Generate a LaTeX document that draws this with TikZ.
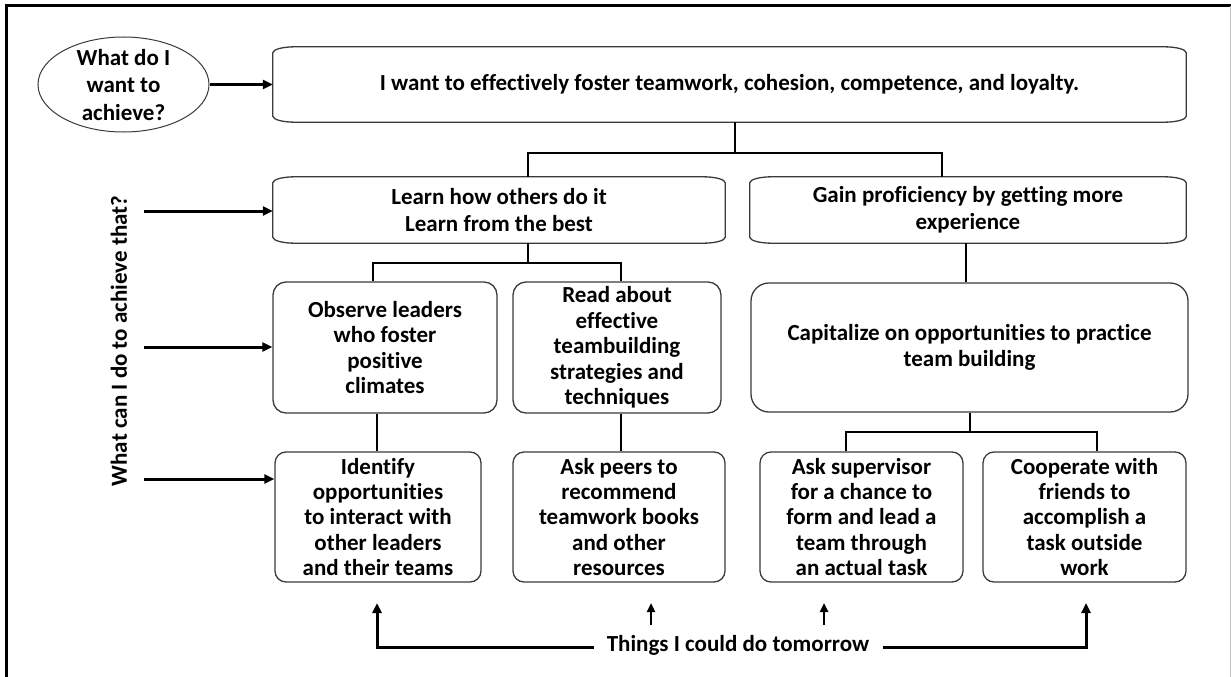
\documentclass[tikz,border=0pt]{standalone}
\usepackage{fontspec}
\setmainfont{Carlito}[Ligatures=NoCommon]
\usetikzlibrary{arrows.meta,calc,shapes.geometric}

\definecolor{boxgrey}{HTML}{3A3A3A}

\tikzset{
  txt/.style={font=\fontsize{23}{25.4}\selectfont\bfseries, align=center, inner sep=0pt},
  plainbox/.style={txt, draw=boxgrey, line width=1.3pt, rounded corners=13pt},
  flatbox/.style={txt, draw=none},
  conn/.style={line width=1.8pt, black},
  arr/.style={line width=3pt, black, -{Triangle[length=10pt,width=9pt]}},
  smallarr/.style={line width=2.6pt, black, -{Triangle[length=9pt,width=8pt]}},
}

% box with softly flattened (elliptic) corners, drawn round a named node
\newcommand\flatoutline[1]{%
  \draw[boxgrey, line width=1.3pt] let \p1=(#1.south west), \p2=(#1.north east) in
    (\x1,\y2-6pt) arc[start angle=180, end angle=90, x radius=22pt, y radius=6pt]
    -- (\x2-22pt,\y2) arc[start angle=90, end angle=0, x radius=22pt, y radius=6pt]
    -- (\x2,\y1+6pt) arc[start angle=0, end angle=-90, x radius=22pt, y radius=6pt]
    -- (\x1+22pt,\y1) arc[start angle=270, end angle=180, x radius=22pt, y radius=6pt]
    -- cycle;}

\begin{document}
\begin{tikzpicture}[x=1pt, y=-1pt]
\useasboundingbox (0,0) rectangle (1231,677);

% frame
\draw[line width=3pt, black] (6,677) -- (6,6) -- (1231,6);
\draw[line width=0.6pt, black!25] (1230,6) -- (1230,677);

% question bubble
\node[ellipse, draw=boxgrey, line width=1pt, minimum width=171pt, minimum height=95pt, inner sep=0pt]
  (ask) at (123.5,84.5) {};
\node[txt, font=\fontsize{23}{27.5}\selectfont\bfseries] (asktxt) at (123.5,85)
  {What do I\\want to\\achieve?};

% goal and the two approaches
\node[flatbox, minimum width=913pt, minimum height=75pt] (goal) at (729.5,84.5)
  {I want to effectively foster teamwork, cohesion, competence, and loyalty.};
\node[flatbox, minimum width=452pt, minimum height=66pt, font=\fontsize{23}{27}\selectfont\bfseries] (learn) at (499,210)
  {Learn how others do it\\Learn from the best};
\node[flatbox, minimum width=436pt, minimum height=66pt, font=\fontsize{23}{27}\selectfont\bfseries] (gain) at (968,210)
  {Gain proficiency by getting more\\experience};
\flatoutline{goal}
\flatoutline{learn}
\flatoutline{gain}

% middle row
\node[plainbox, minimum width=224pt, minimum height=131pt] (observe) at (385,347.5)
  {Observe leaders\\who foster\\positive\\climates};
\node[plainbox, minimum width=208pt, minimum height=131pt] (read) at (617,347.5)
  {Read about\\effective\\teambuilding\\strategies and\\techniques};
\node[plainbox, rounded corners=18pt, minimum width=437pt, minimum height=129pt] (capit) at (969.5,347.5)
  {Capitalize on opportunities to practice\\team building};

% bottom row
\node[plainbox, rounded corners=11pt, minimum width=206pt, minimum height=130pt] (ident) at (378,517)
  {Identify\\opportunities\\to interact with\\other leaders\\and their teams};
\node[plainbox, rounded corners=11pt, minimum width=212pt, minimum height=130pt] (peers) at (619,517)
  {Ask peers to\\recommend\\teamwork books\\and other\\resources};
\node[plainbox, rounded corners=11pt, minimum width=203pt, minimum height=130pt] (superv) at (861.5,517)
  {Ask supervisor\\for a chance to\\form and lead a\\team through\\an actual task};
\node[plainbox, rounded corners=11pt, minimum width=203pt, minimum height=130pt] (coop) at (1084.5,517)
  {Cooperate with\\friends to\\accomplish a\\task outside\\work};

% tree connectors
\coordinate (g0) at (735,153);
\coordinate (gl) at (528,153);
\coordinate (gr) at (942,153);
\draw[conn] (goal.south -| g0) -- (g0);
\draw[conn] (learn.north -| gl) -- (gl) -- (gr) -- (gain.north -| gr);

\coordinate (l0) at (528,263);
\coordinate (ll) at (373,263);
\coordinate (lr) at (621,263);
\draw[conn] (learn.south -| l0) -- (l0);
\draw[conn] (observe.north -| ll) -- (ll) -- (lr) -- (read.north -| lr);

\coordinate (ob) at (377,0);
\draw[conn] (observe.south -| ob) -- (ident.north -| ob);
\coordinate (rb) at (621,0);
\draw[conn] (read.south -| rb) -- (peers.north -| rb);

\coordinate (gb) at (966,0);
\draw[conn] (gain.south -| gb) -- (capit.north -| gb);

\coordinate (c0) at (970,432);
\coordinate (cl) at (846,432);
\coordinate (cr) at (1097,432);
\draw[conn] (capit.south -| c0) -- (c0);
\draw[conn] (superv.north -| cl) -- (cl) -- (cr) -- (coop.north -| cr);

% question on the left
\node[txt, rotate=90] (how) at (119,341) {What can I do to achieve that?};
\coordinate (h1) at (144,211);
\coordinate (h2) at (144,347);
\coordinate (h3) at (144,479);
\draw[arr] (ask.east) -- (goal.west);
\draw[arr] (h1) -- (h1 -| learn.west);
\draw[arr] (h2) -- (h2 -| observe.west);
\draw[arr] (h3) -- (h3 -| ident.west);

% things for tomorrow
\node[txt] (tom) at (738,645) {Things I could do tomorrow};
\coordinate (tl) at (377,647);
\coordinate (tr) at (1086,647);
\coordinate (tip) at (0,603);
\draw[arr] (tom.west) ++(-13,2) -- (tl) -- (tl |- tip);
\draw[arr] (tom.east) ++(14,2) -- (tr) -- (tr |- tip);
\coordinate (m1) at (651,625);
\coordinate (m2) at (824,625);
\draw[smallarr] (m1) -- (m1 |- tip);
\draw[smallarr] (m2) -- (m2 |- tip);

\end{tikzpicture}
\end{document}
